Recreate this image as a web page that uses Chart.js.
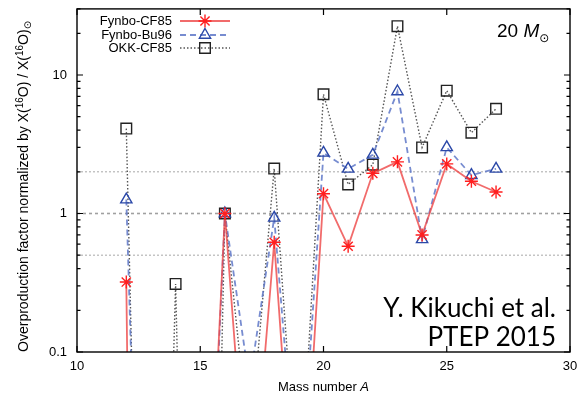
<!DOCTYPE html>
<html>
<head>
<meta charset="utf-8">
<script src="https://cdn.jsdelivr.net/npm/chart.js@4/dist/chart.umd.min.js"></script>
<style>
  html, body { margin: 0; padding: 0; background: #fff; }
  #wrap { width: 580px; height: 398px; position: relative; }
</style>
</head>
<body>
<div id="wrap"><canvas id="chart" width="580" height="398"></canvas></div>
<script>
// mass numbers and overproduction factors (values far below 0.1 are off the plot)
const massNumbers = [12, 13, 14, 15, 16, 17, 18, 19, 20, 21, 22, 23, 24, 25, 26, 27];
const fynboCF85 = [0.32, 1e-15, 1e-10, 2e-4, 1.0, 0.0044, 0.62, 0.002, 1.39, 0.58, 1.95, 2.36, 0.70, 2.28, 1.71, 1.43];
const fynboBu96 = [1.26, 2e-6, 1e-8, 1e-4, 1.0, 0.06, 0.93, 0.0063, 2.74, 2.1, 2.65, 7.6, 0.65, 3.0, 1.89, 2.1];
const okkCF85 = [4.1, 1e-7, 0.31, 1e-8, 1.0, 0.02, 2.11, 0.0065, 7.26, 1.62, 2.25, 22.5, 3.0, 7.7, 3.83, 5.7];
const seriesNames = ['Fynbo-CF85', 'Fynbo-Bu96', 'OKK-CF85'];
const xTicks = [10, 15, 20, 25, 30];
const yTicks = [0.1, 1, 10];
const refLevels = [0.5, 1, 2];

const FONT = '"Liberation Sans", Arial, sans-serif';

function pts(values) {
    return massNumbers.map((m, i) => ({ x: m, y: values[i] }));
}

const styles = [
    { line: 'rgba(238,70,70,0.8)', mark: '#ff1f1f', dash: [], width: 1.8, point: 'star', r: 6.5 },
    { line: 'rgba(95,120,200,0.85)', mark: '#2b48a8', dash: [6, 4], width: 1.8, point: 'triangle', r: 6.5 },
    { line: '#555', mark: '#222', dash: [1.5, 2], width: 1.4, point: 'rect', r: 7.5 }
];

const datasets = [fynboCF85, fynboBu96, okkCF85].map((vals, i) => ({
    label: seriesNames[i],
    data: pts(vals),
    borderColor: styles[i].line,
    borderWidth: styles[i].width,
    borderDash: styles[i].dash,
    pointStyle: styles[i].point,
    pointRadius: styles[i].r,
    pointBorderColor: styles[i].mark,
    pointBackgroundColor: 'rgba(0,0,0,0)',
    pointBorderWidth: 1.4,
    tension: 0,
    fill: false
}));

// draw a run of text pieces with sup/sub offsets, starting at x (left aligned)
function richWidth(ctx, parts) {
    let w = 0;
    parts.forEach(p => { ctx.font = p.font; w += ctx.measureText(p.t).width; });
    return w;
}
function drawRich(ctx, parts, x, y) {
    parts.forEach(p => {
        ctx.font = p.font;
        ctx.fillText(p.t, x, y + (p.dy || 0));
        x += ctx.measureText(p.t).width;
    });
}

// keep the plot box where it is in the original: no extra label padding
function fixPadding(s) {
    s.paddingTop = 0; s.paddingBottom = 0; s.paddingLeft = 0; s.paddingRight = 0;
}

const decorations = {
    id: 'decorations',
    beforeDatasetsDraw(chart) {
        const ctx = chart.ctx, a = chart.chartArea, y = chart.scales.y;
        ctx.save();
        refLevels.forEach(v => {
            const py = y.getPixelForValue(v);
            ctx.beginPath();
            if (v === 1) { ctx.strokeStyle = '#a0a0a0'; ctx.lineWidth = 1.6; ctx.setLineDash([3, 3]); }
            else { ctx.strokeStyle = '#b0b0b0'; ctx.lineWidth = 1.1; ctx.setLineDash([2, 2]); }
            ctx.moveTo(a.left, py);
            ctx.lineTo(a.right, py);
            ctx.stroke();
        });
        ctx.restore();
    },
    afterDraw(chart) {
        const ctx = chart.ctx, a = chart.chartArea, xs = chart.scales.x, ys = chart.scales.y;
        ctx.save();
        ctx.strokeStyle = '#000';
        ctx.lineWidth = 1.4;
        ctx.setLineDash([]);
        ctx.strokeRect(a.left, a.top, a.right - a.left, a.bottom - a.top);

        // x ticks, bottom and top, pointing inward
        ctx.lineWidth = 1.2;
        ctx.beginPath();
        xTicks.forEach(v => {
            const px = xs.getPixelForValue(v);
            ctx.moveTo(px, a.bottom); ctx.lineTo(px, a.bottom - 6);
            ctx.moveTo(px, a.top); ctx.lineTo(px, a.top + 6);
        });
        // y ticks, major and minor, left and right
        for (let dec = 0.1; dec < 40; dec *= 10) {
            for (let k = 1; k <= 9; k++) {
                const v = dec * k;
                if (v < 0.1 - 1e-9 || v > 30 + 1e-9) continue;
                const py = ys.getPixelForValue(v);
                const len = k === 1 ? 6 : 3.5;
                ctx.moveTo(a.left, py); ctx.lineTo(a.left + len, py);
                ctx.moveTo(a.right, py); ctx.lineTo(a.right - len, py);
            }
        }
        ctx.stroke();

        // legend
        ctx.font = '13px ' + FONT;
        ctx.textAlign = 'right';
        ctx.textBaseline = 'middle';
        [21, 35, 48].forEach((ly, i) => {
            const s = styles[i];
            ctx.fillStyle = '#000';
            ctx.fillText(seriesNames[i], 172, ly);
            ctx.beginPath();
            ctx.strokeStyle = s.line;
            ctx.lineWidth = s.width;
            ctx.setLineDash(s.dash);
            ctx.moveTo(180, ly); ctx.lineTo(230, ly);
            ctx.stroke();
            ctx.setLineDash([]);
            ctx.strokeStyle = s.mark;
            ctx.fillStyle = 'rgba(0,0,0,0)';
            ctx.lineWidth = 1.4;
            Chart.helpers.drawPoint(ctx, { pointStyle: s.point, radius: s.r, borderWidth: 1.4, rotation: 0 }, 205, ly);
        });
        ctx.fillStyle = '#000';

        // x axis title
        ctx.textAlign = 'left';
        ctx.textBaseline = 'alphabetic';
        const xt = [
            { t: 'Mass number ', font: '13px ' + FONT },
            { t: 'A', font: 'italic 13px ' + FONT }
        ];
        drawRich(ctx, xt, (a.left + a.right) / 2 - richWidth(ctx, xt) / 2, 391);

        // y axis title, rotated
        const yt = [
            { t: 'Overproduction factor normalized by X(', font: '14px ' + FONT },
            { t: '16', font: '10px ' + FONT, dy: -5 },
            { t: 'O) / X(', font: '14px ' + FONT },
            { t: '16', font: '10px ' + FONT, dy: -5 },
            { t: 'O)', font: '14px ' + FONT },
            { t: '\u2299', font: '10px "DejaVu Sans", sans-serif', dy: 3 }
        ];
        ctx.save();
        ctx.translate(28, (a.top + a.bottom) / 2 + 6);
        ctx.rotate(-Math.PI / 2);
        drawRich(ctx, yt, -richWidth(ctx, yt) / 2, 0);
        ctx.restore();

        // mass label top right
        const mt = [
            { t: '20 ', font: '19px ' + FONT },
            { t: 'M', font: 'italic 19px ' + FONT },
            { t: '\u2299', font: '12px "DejaVu Sans", sans-serif', dy: 5 }
        ];
        drawRich(ctx, mt, 497, 37);

        // citation text
        ctx.textAlign = 'right';
        ctx.font = '26px Lato, "Open Sans", sans-serif';
        ctx.fillText('Y. Kikuchi et al.', 556, 317);
        ctx.fillText('PTEP 2015', 556, 346);
        ctx.restore();
    }
};

new Chart(document.getElementById('chart'), {
    type: 'line',
    data: { datasets: datasets },
    options: {
        responsive: false,
        animation: false,
        layout: { padding: { top: 7, right: 10, left: 0, bottom: 0 } },
        plugins: { legend: { display: false }, tooltip: { enabled: false } },
        scales: {
            x: {
                type: 'linear',
                min: 10,
                max: 30,
                afterBuildTicks: s => { s.ticks = xTicks.map(v => ({ value: v })); },
                afterFit: s => { s.height = 46; fixPadding(s); },
                grid: { display: false, drawTicks: false },
                border: { display: false },
                ticks: { padding: 7, color: '#000', font: { family: FONT, size: 13 } }
            },
            y: {
                type: 'logarithmic',
                min: 0.1,
                max: 30,
                afterBuildTicks: s => { s.ticks = yTicks.map(v => ({ value: v })); },
                afterFit: s => { s.width = 77; fixPadding(s); },
                grid: { display: false, drawTicks: false },
                border: { display: false },
                ticks: {
                    padding: 10,
                    color: '#000',
                    font: { family: FONT, size: 13 },
                    callback: v => String(v)
                }
            }
        }
    },
    plugins: [decorations]
});
</script>
</body>
</html>
